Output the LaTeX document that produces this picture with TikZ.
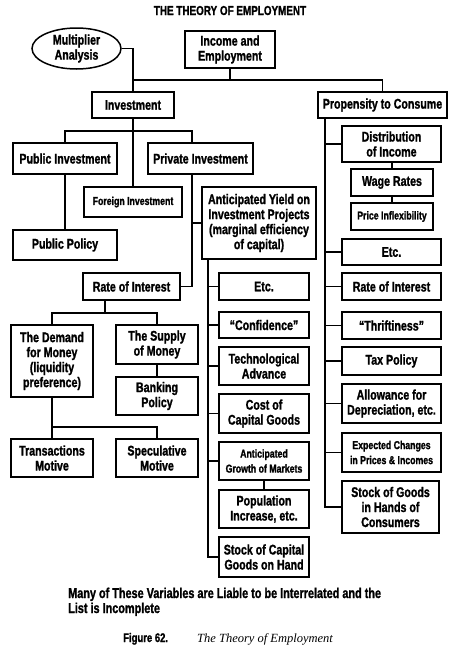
\documentclass[tikz,border=0pt]{standalone}
\usepackage{fontspec}
\setmainfont{Liberation Sans}[FakeStretch=0.76, BoldFeatures={FakeBold=1.3}]
\newfontfamily\capserif{Liberation Serif}
\usetikzlibrary{shapes.geometric}
\newcommand\mybox[7][bx]{%
  \pgfmathsetmacro\mybw{#5-#3}\pgfmathsetmacro\mybh{#6-#4}%
  \pgfmathsetmacro\mybcx{(#3+#5)/2}\pgfmathsetmacro\mybcy{(#4+#6)/2}%
  \node[#1, minimum width=\mybw pt, minimum height=\mybh pt] (#2) at (\mybcx,\mybcy) {#7};}
\begin{document}
\begin{tikzpicture}[x=1pt,y=-1pt,
  bx/.style={draw, line width=1.5pt, inner sep=0pt, align=center, font=\fontsize{14}{15}\selectfont\bfseries},
  sbx/.style={bx, font=\fontsize{11.5}{15}\selectfont\bfseries},
  ebx/.style={bx, ellipse},
  ln/.style={line width=1.5pt, line join=miter}]
\useasboundingbox (0,0) rectangle (451,648);
\node[anchor=base, inner sep=0pt, font=\fontsize{13}{14}\selectfont\bfseries] (title) at (230,15) {THE THEORY OF EMPLOYMENT};

\mybox[ebx]{mult}{32}{28}{121}{69}{Multiplier\\Analysis}
\mybox{inc}{185}{31}{275}{68}{Income and\\Employment}
\mybox{inv}{92}{92}{174}{118}{Investment}
\mybox{prop}{318}{92}{447}{118}{Propensity to Consume}

\mybox{pubinv}{13}{143}{117}{174}{Public Investment}
\mybox{privinv}{148}{143}{253}{174}{Private Investment}
\mybox[sbx]{foreign}{84}{187}{182}{217}{Foreign Investment}
\mybox{pubpol}{13}{230}{117}{260}{Public Policy}
\mybox{ayield}{202}{187}{316}{259}{Anticipated Yield on\\Investment Projects\\(marginal efficiency\\of capital)}
\mybox{rate1}{83}{273}{180}{300}{Rate of Interest}

\mybox{demand}{11}{325}{93}{397}{The Demand\\for Money\\(liquidity\\preference)}
\mybox{supply}{116}{325}{198}{364}{The Supply\\of Money}
\mybox{bank}{116}{377}{198}{415}{Banking\\Policy}
\mybox{trans}{11}{439}{93}{477}{Transactions\\Motive}
\mybox{spec}{116}{439}{198}{477}{Speculative\\Motive}

\mybox{etcM}{219}{273}{309}{300}{Etc.}
\mybox{conf}{219}{312}{309}{338}{``Confidence''}
\mybox{tech}{219}{347}{309}{385}{Technological\\Advance}
\mybox{cost}{219}{394}{309}{433}{Cost of\\Capital Goods}
\mybox[sbx]{growth}{219}{442}{309}{480}{Anticipated\\Growth of Markets}
\mybox{pop}{219}{490}{309}{528}{Population\\Increase, etc.}
\mybox{stockC}{219}{537}{309}{577}{Stock of Capital\\Goods on Hand}

\mybox{distr}{342}{126}{441}{162}{Distribution\\of Income}
\mybox{wage}{351}{169}{433}{196}{Wage Rates}
\mybox[sbx]{price}{351}{203}{433}{230}{Price Inflexibility}
\mybox{etcR}{342}{239}{441}{265}{Etc.}
\mybox{rateR}{342}{273}{441}{300}{Rate of Interest}
\mybox{thrift}{342}{312}{441}{339}{``Thriftiness''}
\mybox{tax}{342}{347}{441}{375}{Tax Policy}
\mybox{allow}{342}{384}{441}{423}{Allowance for\\Depreciation, etc.}
\mybox[sbx]{expect}{342}{433}{441}{472}{Expected Changes\\in Prices \& Incomes}
\mybox{stockG}{342}{481}{439}{533}{Stock of Goods\\in Hands of\\Consumers}

% coordinates
\coordinate (bus1) at (0,80);
\coordinate (bus2) at (0,131);
\coordinate (pvx) at (192,0);
\coordinate (ayx) at (208,0);
\coordinate (px) at (325,0);
\coordinate (r1x) at (105,0);
\coordinate (bus3) at (0,313);
\coordinate (bus4) at (0,427);

% top
\draw[ln] (mult.east) -| (inv.north);
\draw[ln] (inc.south) -- (inc.south |- bus1);
\draw[ln] (inv.north |- bus1) -- (prop.north |- bus1) -- (prop.north);
% investment
\draw[ln] (inv.south) -- (foreign.north);
\draw[ln] (pubinv.north) -- (pubinv.north |- bus2) -- (pvx |- bus2) -- (privinv.north -| pvx);
\draw[ln] (pubinv.south) -- (pubpol.north);
\draw[ln] (privinv.south -| pvx) |- (rate1.east);
\draw[ln] (ayield.west) -- (ayield.west -| pvx);
% anticipated yield
\draw[ln] (ayield.south -| ayx) |- (stockC.west);
\foreach \n in {etcM,conf,tech,cost,growth} \draw[ln] (\n.west) -- (\n.west -| ayx);
\draw[ln] (growth.south) -- (pop.north);
% propensity
\draw[ln] (prop.south -| px) |- (stockG.west);
\foreach \n in {distr,etcR,rateR,thrift,tax,allow,expect} \draw[ln] (\n.west) -- (\n.west -| px);
\draw[ln] (distr.south -| wage.north) -- (wage.north);
\draw[ln] (wage.south) -- (price.north);
% money
\draw[ln] (rate1.south -| r1x) -- (r1x |- bus3);
\draw[ln] (demand.north) -- (demand.north |- bus3) -- (supply.north |- bus3) -- (supply.north);
\draw[ln] (supply.south) -- (bank.north);
\draw[ln] (demand.south) -- (trans.north);
\draw[ln] (demand.south |- bus4) -- (spec.north |- bus4) -- (spec.north);

% notes
\node[anchor=base west, inner sep=0pt, font=\fontsize{14.3}{15}\selectfont\bfseries] (note1) at (68,598) {Many of These Variables are Liable to be Interrelated and the};
\node[anchor=base west, inner sep=0pt, font=\fontsize{14.3}{15}\selectfont\bfseries] (note2) at (68,613) {List is Incomplete};
\node[anchor=base west, inner sep=0pt, font=\fontsize{12.5}{13}\selectfont\bfseries] (cap1) at (123,642) {Figure 62.};
\node[anchor=base west, inner sep=0pt, font=\capserif\itshape\fontsize{12.5}{14}\selectfont] (cap2) at (197,642) {The Theory of Employment};
\end{tikzpicture}
\end{document}
